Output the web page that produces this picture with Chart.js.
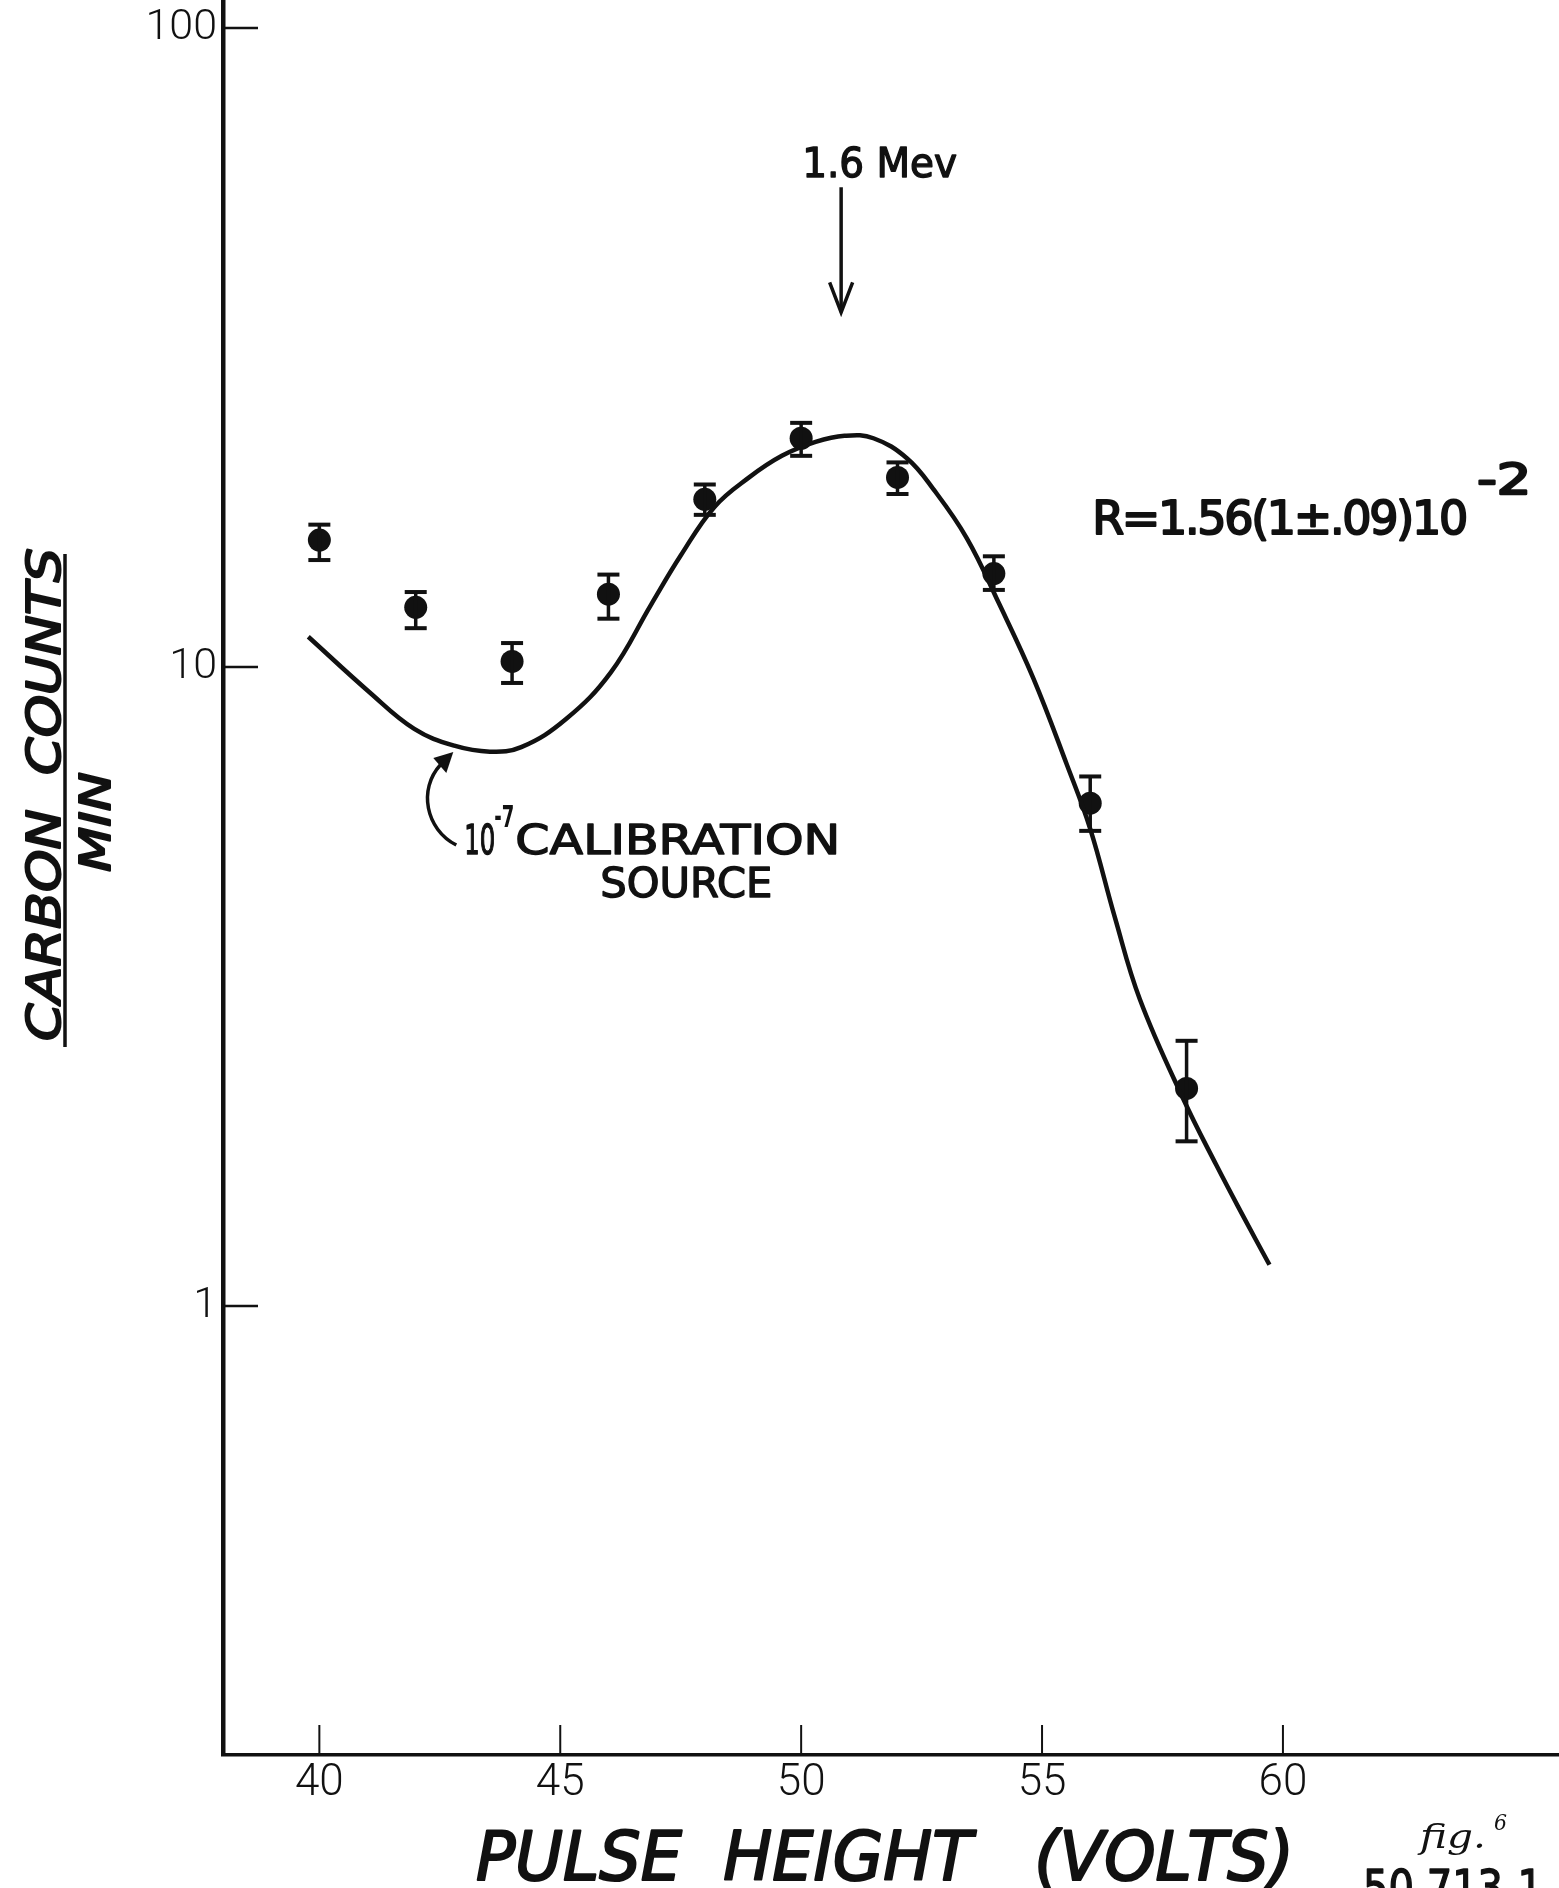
<!DOCTYPE html>
<html>
<head>
<meta charset="utf-8">
<title>Carbon counts vs pulse height</title>
<script src="https://cdn.jsdelivr.net/npm/chart.js@4/dist/chart.umd.min.js"></script>
<style>
  html, body { margin: 0; padding: 0; background: #fff; }
  canvas { display: block; }
</style>
</head>
<body>
<canvas id="pulseChart" width="1559" height="1888"></canvas>
<script>
// axis ticks
const xTickValues = [40, 45, 50, 55, 60];
const xTickLabels = ['40', '45', '50', '55', '60'];
const yTickValues = [1, 10, 100];
const yTickLabels = ['1', '10', '100'];

// measured points (carbon counts / min) with error bars
const pulseVolts = [40, 42, 44, 46, 48, 50, 52, 54, 56, 58];
const countsPerMin = [15.8, 12.4, 10.2, 13.0, 18.3, 22.8, 19.8, 14.0, 6.12, 2.19];
const countsLow = [14.7, 11.5, 9.44, 11.9, 17.3, 21.4, 18.65, 13.2, 5.54, 1.81];
const countsHigh = [16.7, 13.1, 10.9, 13.95, 19.3, 24.1, 20.9, 14.9, 6.74, 2.6];

// 10^-7 calibration source curve
const calibVolts = [39.77, 41.04, 41.97, 42.8, 43.54, 44.19, 45.12, 46.05, 46.88, 47.5,
    48.2, 48.92, 49.6, 50.3, 50.9, 51.5, 52.2, 52.74, 53.44, 54.1,
    54.82, 55.51, 56.0, 56.51, 57.03, 57.93, 58.62, 59.18, 59.72];
const calibCounts = [11.15, 9.13, 8.0, 7.53, 7.37, 7.49, 8.29, 9.81, 12.5, 14.94,
    17.8, 19.8, 21.4, 22.5, 23.0, 22.8, 21.2, 19.0, 15.9, 12.6,
    9.6, 7.05, 5.58, 4.06, 3.02, 2.11, 1.66, 1.38, 1.16];

const ink = '#111';
const tickFont = '"Roboto", "Liberation Sans", sans-serif';
const letterFont = '"DejaVu Sans", "Liberation Sans", sans-serif';

// draw text fitted to a width; spread = widen gaps instead of glyphs, heavy = extra stroke
function fitText(ctx, text, left, baseline, width, spread = false, heavy = 0) {
    ctx.save();
    ctx.textAlign = 'left';
    ctx.textBaseline = 'alphabetic';
    ctx.letterSpacing = '0px';
    const w = ctx.measureText(text).width;
    ctx.translate(left, baseline);
    if (spread) {
        ctx.letterSpacing = `${(width - w) / (text.length - 1)}px`;
    } else {
        ctx.scale(width / w, 1);
    }
    ctx.fillText(text, 0, 0);
    if (heavy) {
        ctx.lineWidth = heavy;
        ctx.lineJoin = 'round';
        ctx.strokeText(text, 0, 0);
    }
    ctx.restore();
}

function seg(ctx, x1, y1, x2, y2) {
    ctx.beginPath();
    ctx.moveTo(x1, y1);
    ctx.lineTo(x2, y2);
    ctx.stroke();
}

const inkPlugin = {
    id: 'ink',
    afterDatasetsDraw(chart) {
        const { ctx, chartArea: a, scales: { x, y } } = chart;
        ctx.save();
        ctx.strokeStyle = ink;
        ctx.fillStyle = ink;

        // tick marks point into the plot
        ctx.lineWidth = 2;
        x.ticks.forEach(t => {
            const px = x.getPixelForValue(t.value);
            seg(ctx, px, a.bottom, px, a.bottom - 30);
        });
        ctx.lineWidth = 2.5;
        y.ticks.forEach(t => {
            const py = y.getPixelForValue(t.value);
            seg(ctx, a.left, py, a.left + 35, py);
        });

        // error bars
        pulseVolts.forEach((v, i) => {
            const px = x.getPixelForValue(v);
            const top = y.getPixelForValue(countsHigh[i]);
            const bot = y.getPixelForValue(countsLow[i]);
            ctx.lineWidth = 3.5;
            seg(ctx, px, top, px, bot);
            ctx.lineWidth = 4;
            seg(ctx, px - 11, top, px + 11, top);
            seg(ctx, px - 11, bot, px + 11, bot);
        });

        // 1.6 Mev arrow
        let ax = x.getPixelForValue(50.83), ay = y.getPixelForValue(35.9);
        ctx.lineWidth = 3.5;
        seg(ctx, ax, ay - 125, ax, ay);
        ctx.beginPath();
        ctx.moveTo(ax - 11.5, ay - 30);
        ctx.lineTo(ax, ay);
        ctx.lineTo(ax + 11.5, ay - 30);
        ctx.stroke();
        ctx.font = `41px ${letterFont}`;
        fitText(ctx, '1.6 Mev', ax - 39, ay - 135, 155, false, 1.4);

        // R value
        ax = x.getPixelForValue(56.04);
        ay = y.getPixelForValue(16.15);
        ctx.font = `46px ${letterFont}`;
        fitText(ctx, 'R=1.56(1±.09)10', ax, ay, 376, true, 2);
        ctx.font = `42px ${letterFont}`;
        fitText(ctx, '-2', ax + 385, ay - 40, 54, false, 2.4);

        // calibration source label with curved arrow
        ax = x.getPixelForValue(42.78);
        ay = y.getPixelForValue(7.36);
        ctx.lineWidth = 3.5;
        ctx.beginPath();
        ctx.moveTo(ax + 3, ay + 93);
        ctx.bezierCurveTo(ax - 28, ay + 77, ax - 35, ay + 37, ax - 13, ay + 13);
        ctx.stroke();
        ctx.beginPath();
        ctx.moveTo(ax, ay);
        ctx.lineTo(ax - 20, ay + 6);
        ctx.lineTo(ax - 7, ay + 21);
        ctx.closePath();
        ctx.fill();
        ctx.font = `41px ${letterFont}`;
        fitText(ctx, '10', ax + 11, ay + 102, 31, false, 1.4);
        fitText(ctx, 'CALIBRATION', ax + 62, ay + 102, 325, false, 1.4);
        fitText(ctx, 'SOURCE', ax + 147, ay + 145, 172, false, 1.4);
        ctx.font = `bold 31px ${letterFont}`;
        fitText(ctx, '-7', ax + 41, ay + 75, 20);

        ctx.restore();
    },
    afterDraw(chart) {
        const { ctx, chartArea: a } = chart;
        ctx.save();
        ctx.fillStyle = ink;
        ctx.strokeStyle = ink;

        // y title: CARBON COUNTS / MIN
        ctx.save();
        ctx.translate(60, 1041);
        ctx.rotate(-Math.PI / 2);
        ctx.font = `italic 47px ${letterFont}`;
        fitText(ctx, 'CARBON  COUNTS', 0, 0, 493, false, 2);
        ctx.restore();
        ctx.lineWidth = 3.5;
        seg(ctx, 65, 554, 65, 1047);
        ctx.save();
        ctx.translate(110, 872);
        ctx.rotate(-Math.PI / 2);
        ctx.font = `italic 42px ${letterFont}`;
        fitText(ctx, 'MIN', 0, 0, 100, false, 2);
        ctx.restore();

        // x title
        ctx.font = `italic 68px ${letterFont}`;
        fitText(ctx, 'PULSE  HEIGHT   (VOLTS)', 476, a.bottom + 125, 818, false, 2.2);

        // figure marks, lower right
        ctx.font = `italic 34px "DejaVu Serif", serif`;
        fitText(ctx, 'fig.', 1420, 1848, 66);
        ctx.font = `italic 22px "DejaVu Serif", serif`;
        fitText(ctx, '6', 1494, 1830, 13);
        ctx.font = `48px ${letterFont}`;
        fitText(ctx, '50 713-1', 1363, 1904, 180, false, 1.5);

        ctx.restore();
    }
};

const ctx = document.getElementById('pulseChart').getContext('2d');

new Chart(ctx, {
    type: 'scatter',
    data: {
        datasets: [{
            type: 'line',
            label: 'Calibration source',
            data: calibVolts.map((v, i) => ({ x: v, y: calibCounts[i] })),
            borderColor: ink,
            borderWidth: 4.5,
            pointRadius: 0,
            fill: false,
            tension: 0.4
        }, {
            label: 'Carbon',
            data: pulseVolts.map((v, i) => ({ x: v, y: countsPerMin[i] })),
            pointRadius: 11.5,
            pointBackgroundColor: ink,
            pointBorderWidth: 0,
            backgroundColor: ink
        }]
    },
    options: {
        responsive: false,
        animation: false,
        layout: { padding: 0, autoPadding: false },
        plugins: {
            legend: { display: false },
            tooltip: { enabled: false }
        },
        scales: {
            x: {
                type: 'linear',
                min: 38.0,
                max: 65.73,
                afterBuildTicks: s => { s.ticks = xTickValues.map(v => ({ value: v })); },
                afterFit: s => { s.height = 133; s.paddingLeft = 0; s.paddingRight = 0; },
                grid: { display: false, drawTicks: false },
                border: { display: true, color: ink, width: 3.5 },
                ticks: {
                    padding: 3,
                    color: ink,
                    font: { family: tickFont, size: 44, weight: 300 },
                    callback: (v, i) => xTickLabels[i]
                }
            },
            y: {
                type: 'logarithmic',
                min: 0.1983,
                max: 110.6,
                afterBuildTicks: s => { s.ticks = yTickValues.map(v => ({ value: v })); },
                afterFit: s => { s.width = 223; s.paddingTop = 0; s.paddingBottom = 0; },
                grid: { display: false, drawTicks: false },
                border: { display: true, color: ink, width: 4.5 },
                ticks: {
                    padding: 6,
                    color: ink,
                    font: { family: tickFont, size: 43, weight: 300 },
                    callback: (v, i) => yTickLabels[i]
                }
            }
        }
    },
    plugins: [inkPlugin]
});
</script>
</body>
</html>
